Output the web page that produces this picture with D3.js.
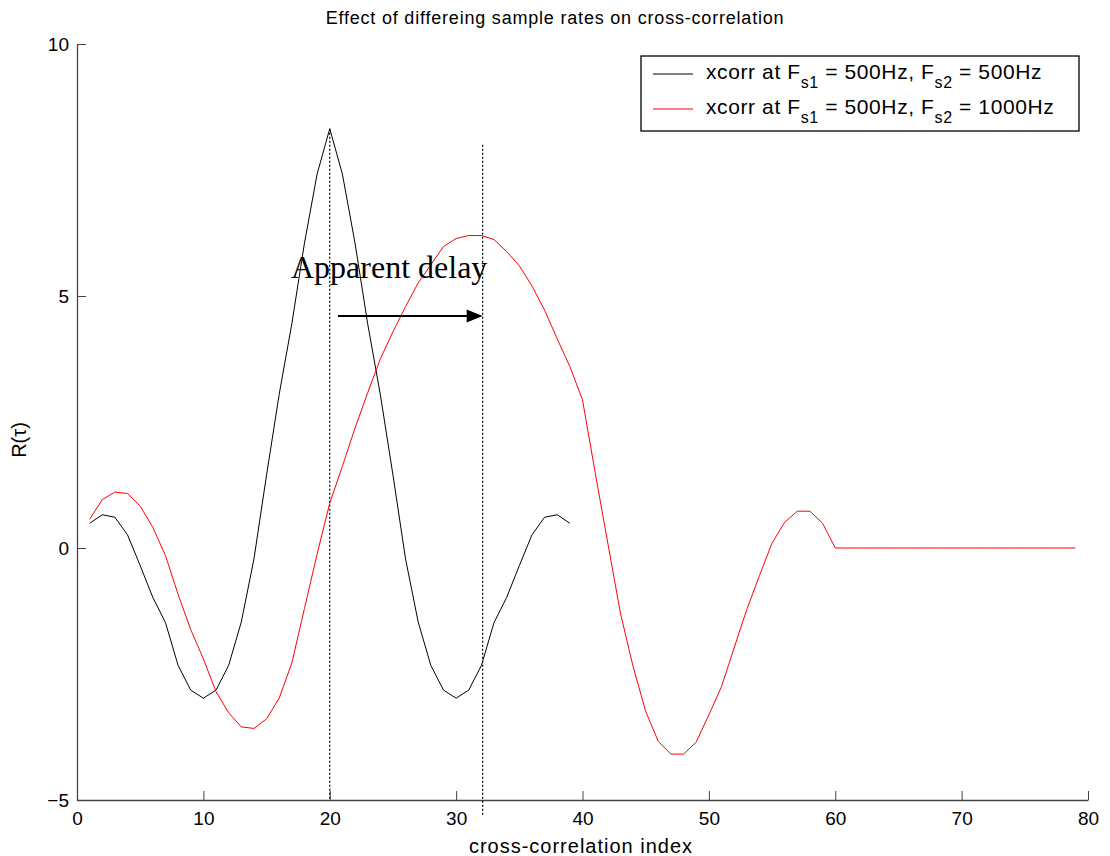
<!DOCTYPE html>
<html>
<head>
<meta charset="utf-8">
<script src="https://cdn.jsdelivr.net/npm/d3@7"></script>
<style>
  body { margin: 0; background: #fff; }
  svg { display: block; font-family: "Liberation Sans", Arial, sans-serif; }
</style>
</head>
<body>
<svg id="chart" width="1110" height="856"></svg>
<script>
// xcorr, both signals at 500Hz (index 1..39)
const blackVals = [0.49, 0.66, 0.61, 0.26, -0.35, -0.98, -1.48, -2.33, -2.82, -2.98,
  -2.82, -2.33, -1.47, -0.22, 1.45, 3.05, 4.45, 6.05, 7.42, 8.32,
  7.42, 6.05, 4.45, 3.05, 1.45, -0.22, -1.47, -2.33, -2.82, -2.98,
  -2.82, -2.33, -1.48, -0.98, -0.35, 0.26, 0.61, 0.66, 0.49];
// xcorr, 500Hz vs 1000Hz (index 1..79)
const redVals = [0.57, 0.96, 1.11, 1.08, 0.83, 0.41, -0.15, -0.92, -1.62, -2.2,
  -2.85, -3.27, -3.55, -3.58, -3.39, -2.98, -2.28, -1.2, -0.12, 0.89,
  1.62, 2.38, 3.08, 3.75, 4.29, 4.79, 5.26, 5.62, 5.98, 6.14,
  6.2, 6.2, 6.12, 5.88, 5.6, 5.2, 4.72, 4.15, 3.6, 2.94,
  1.5, 0.1, -1.29, -2.35, -3.24, -3.84, -4.09, -4.09, -3.85, -3.31,
  -2.75, -1.98, -1.22, -0.55, 0.1, 0.51, 0.73, 0.73, 0.49, 0,
  0, 0, 0, 0, 0, 0, 0, 0, 0, 0,
  0, 0, 0, 0, 0, 0, 0, 0, 0];
const xTicks = [0, 10, 20, 30, 40, 50, 60, 70, 80];
const yTicks = [-5, 0, 5, 10];
// dotted markers: [index, top value]
const markers = [[20, 8.32], [32.1, 8.0]];

const svg = d3.select('#chart');
const m = { left: 77, right: 1088, top: 44, bottom: 800 };

const x = d3.scaleLinear().domain([0, 80]).range([m.left, m.right]);
const y = d3.scaleLinear().domain([-5, 10]).range([m.bottom, m.top]);

const axisColor = '#444';

// axes (matlab style: ticks inside, no box)
const gx = svg.append('g')
  .attr('transform', `translate(0,${m.bottom})`)
  .call(d3.axisBottom(x).tickValues(xTicks).tickSizeInner(-9).tickSizeOuter(0).tickPadding(12));
const gy = svg.append('g')
  .attr('transform', `translate(${m.left},0)`)
  .call(d3.axisLeft(y).tickValues(yTicks).tickSizeInner(-9).tickSizeOuter(0).tickPadding(8));
[gx, gy].forEach(g => {
  g.select('.domain').attr('stroke', axisColor).attr('stroke-width', 1.3);
  g.selectAll('.tick line').attr('stroke', axisColor);
  g.selectAll('.tick text')
    .attr('fill', '#000')
    .style('font-family', '"Liberation Sans", Arial, sans-serif')
    .style('font-size', '19px');
});
gx.selectAll('.tick text').attr('dy', '0.71em');

const line = d3.line()
  .x(d => x(d[0]))
  .y(d => y(d[1]));

// dotted vertical markers
svg.append('g')
  .selectAll('line')
  .data(markers)
  .join('line')
  .attr('x1', d => x(d[0]))
  .attr('x2', d => x(d[0]))
  .attr('y1', d => y(d[1]))
  .attr('y2', (d, i) => (i === 0 ? y(-5) : y(-5.3)))
  .attr('stroke', '#000')
  .attr('stroke-width', 1.2)
  .attr('stroke-dasharray', '2,2');

svg.append('path')
  .datum(blackVals.map((v, i) => [i + 1, v]))
  .attr('d', line)
  .attr('fill', 'none')
  .attr('stroke', '#000')
  .attr('stroke-width', 1);

svg.append('path')
  .datum(redVals.map((v, i) => [i + 1, v]))
  .attr('d', line)
  .attr('fill', 'none')
  .attr('stroke', '#ff0000')
  .attr('stroke-width', 1);

// annotation
svg.append('text')
  .attr('x', 291)
  .attr('y', 278)
  .style('font-family', '"Liberation Serif", "Times New Roman", serif')
  .style('font-size', '32px')
  .text('Apparent delay');

const arrowY = 316;
const ax0 = 338, ax1 = x(markers[1][0]);
svg.append('line')
  .attr('x1', ax0).attr('x2', ax1 - 14)
  .attr('y1', arrowY).attr('y2', arrowY)
  .attr('stroke', '#000').attr('stroke-width', 2);
svg.append('path')
  .attr('d', `M${ax1},${arrowY} L${ax1 - 16},${arrowY - 6.5} L${ax1 - 16},${arrowY + 6.5} Z`)
  .attr('fill', '#000');

// title and axis labels
svg.append('text')
  .attr('x', 555).attr('y', 24)
  .attr('text-anchor', 'middle')
  .style('font-size', '18px')
  .style('letter-spacing', '0.8px')
  .text('Effect of differeing sample rates on cross-correlation');

svg.append('text')
  .attr('x', 581).attr('y', 853)
  .attr('text-anchor', 'middle')
  .style('font-size', '20px')
  .style('letter-spacing', '1px')
  .text('cross-correlation index');

svg.append('text')
  .attr('transform', 'translate(26,440) rotate(-90)')
  .attr('text-anchor', 'middle')
  .style('font-size', '20px')
  .text('R(τ)');

// legend
const legend = svg.append('g');
legend.append('rect')
  .attr('x', 641).attr('y', 56)
  .attr('width', 438).attr('height', 75)
  .attr('fill', '#fff')
  .attr('stroke', '#000')
  .attr('stroke-width', 1.3);

const legendRows = [
  { color: '#000', f2: '500Hz' },
  { color: '#ff0000', f2: '1000Hz' }
];
legendRows.forEach((r, i) => {
  const cy = 74 + i * 35;
  legend.append('line')
    .attr('x1', 653).attr('x2', 693)
    .attr('y1', cy).attr('y2', cy)
    .attr('stroke', r.color);
  const t = legend.append('text')
    .attr('x', 706).attr('y', cy + 5)
    .style('font-size', '21px')
    .style('letter-spacing', '0.6px');
  t.append('tspan').text('xcorr at F');
  t.append('tspan').attr('dy', 9).style('font-size', '16px').text('s1');
  t.append('tspan').attr('dy', -9).text(' = 500Hz, F');
  t.append('tspan').attr('dy', 9).style('font-size', '16px').text('s2');
  t.append('tspan').attr('dy', -9).text(' = ' + r.f2);
});
</script>
</body>
</html>
